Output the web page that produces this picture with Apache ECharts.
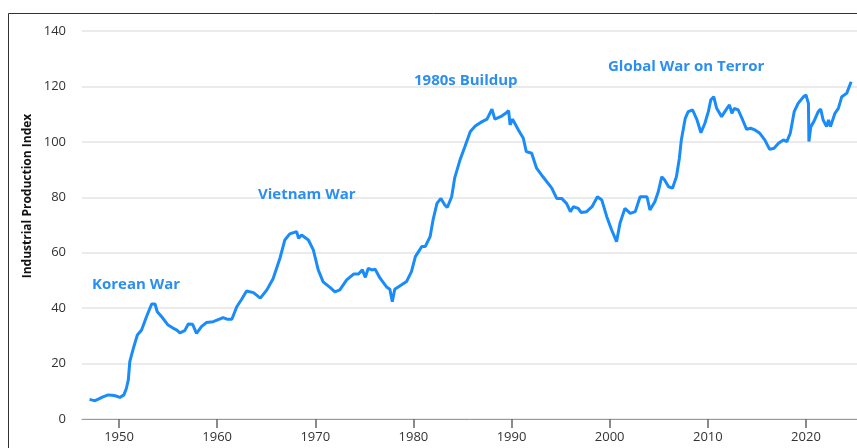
<!DOCTYPE html>
<html>
<head>
<meta charset="utf-8">
<script src="https://cdn.jsdelivr.net/npm/echarts@6/dist/echarts.min.js"></script>
<style>
html,body{margin:0;padding:0;background:#fff;}
#c{width:857px;height:448px;}
</style>
</head>
<body>
<div id="c"></div>
<script>
var years = [1947.0,1947.3,1947.55,1947.9,1948.3,1948.9,1949.3,1949.6,1950.1,1950.5,1950.75,1950.95,1951.1,1951.46,1951.87,1952.3,1952.8,1953.1,1953.33,1953.67,1953.9,1954.35,1955.0,1955.5,1955.9,1956.2,1956.7,1957.06,1957.5,1957.9,1958.4,1958.9,1959.6,1960.3,1960.6,1961.0,1961.5,1962.0,1962.5,1963.0,1963.7,1964.4,1965.05,1965.7,1966.4,1966.9,1967.4,1968.1,1968.3,1968.6,1969.3,1969.8,1970.3,1970.8,1971.5,1972.0,1972.5,1973.2,1973.9,1974.4,1974.8,1975.1,1975.4,1975.75,1976.1,1976.6,1977.3,1977.6,1977.85,1978.1,1978.8,1979.3,1979.8,1980.2,1980.85,1981.2,1981.7,1982.0,1982.4,1982.8,1983.2,1983.45,1983.9,1984.2,1984.75,1985.25,1985.8,1986.3,1987.0,1987.5,1988.0,1988.3,1989.0,1989.4,1989.7,1989.85,1990.1,1990.7,1991.2,1991.5,1992.05,1992.55,1993.2,1994.1,1994.6,1995.1,1995.6,1996.0,1996.3,1996.8,1997.1,1997.65,1998.2,1998.75,1999.2,1999.7,2000.2,2000.7,2001.05,2001.55,2002.1,2002.6,2003.1,2003.8,2004.1,2004.6,2004.95,2005.3,2005.6,2006.0,2006.4,2006.8,2007.1,2007.3,2007.7,2008.0,2008.45,2008.9,2009.3,2009.7,2010.05,2010.3,2010.6,2010.9,2011.4,2011.95,2012.2,2012.45,2012.7,2013.1,2013.55,2013.95,2014.35,2014.8,2015.3,2015.8,2016.3,2016.75,2017.2,2017.7,2018.05,2018.4,2018.8,2019.2,2019.75,2020.0,2020.25,2020.3,2020.5,2020.8,2021.25,2021.5,2021.75,2022.1,2022.3,2022.5,2022.95,2023.3,2023.65,2024.15,2024.6];
var values = [7.1,6.8,6.6,7.2,7.9,8.7,8.6,8.4,7.8,8.7,11,14.1,20.7,25.5,30.3,32.1,36.9,39.5,41.5,41.5,38.7,36.9,33.9,32.8,32.1,31.1,31.9,34.3,34.2,30.9,33.3,34.8,35.1,36.1,36.6,36.0,36.0,40.5,43.2,46.2,45.6,43.6,46.5,50.6,58.0,64.6,66.8,67.6,65.2,66.4,64.6,61.0,53.8,49.5,47.5,45.9,46.6,50.2,52.3,52.3,53.8,51.1,54.4,53.8,54.0,50.8,47.5,46.8,42.3,46.8,48.4,49.6,53.2,58.6,62.2,62.2,65.8,71.8,77.8,79.6,77.2,76.3,80.2,86.9,93.5,98.3,103.7,105.7,107.3,108.2,111.8,108.2,109.3,110.3,111.3,106.1,108.2,104.3,101.3,96.5,95.9,90.5,87.4,83.3,79.6,79.6,77.8,74.8,76.6,76.0,74.5,74.8,76.6,80.2,79.0,73.0,68.2,64.0,70.6,76.0,74.2,74.8,80.2,80.2,75.4,78.4,82.0,87.4,86.2,83.8,83.3,87.4,94.1,100.7,108.5,110.9,111.5,107.9,103.3,106.7,110.9,115.1,116.3,112.1,109.1,112.1,113.3,110.3,112.1,111.5,107.9,104.5,104.9,104.3,103.1,100.7,97.3,97.7,99.5,100.7,100.1,103.1,110.9,113.9,116.3,116.9,113.9,100.1,105.5,107.3,110.9,111.8,107.9,105.5,107.9,105.5,110.3,112.1,116.3,117.5,121.7];
var xTicks = [1950,1960,1970,1980,1990,2000,2010,2020];
var yTicks = [0,20,40,60,80,100,120,140];
var annotations = ['Korean War','Vietnam War','1980s Buildup','Global War on Terror'];
var yTitle = 'Industrial Production Index';

var seriesData = years.map(function(y,i){return [y, values[i]];});
var FONT = '"Open Sans", sans-serif';
var annoPos = [[92,285],[258,195],[414,81],[608,67]];

var chart = echarts.init(document.getElementById('c'));
chart.setOption({
  animation:false,
  backgroundColor:'#ffffff',
  grid:{left:82,right:0,top:31,bottom:29,containLabel:false},
  xAxis:{
    type:'value', min:1946.23, max:2025.2,
    axisLine:{show:true,lineStyle:{color:'#9a9a9a',width:1}},
    axisTick:{show:true,customValues:xTicks,length:9,lineStyle:{color:'#666',width:1.5}},
    axisLabel:{customValues:xTicks,margin:12,color:'#333',fontSize:13,fontFamily:FONT,
      formatter:function(v){return String(Math.round(v));}},
    splitLine:{show:false}
  },
  yAxis:{
    type:'value', min:yTicks[0], max:yTicks[yTicks.length-1], interval:20,
    axisLine:{show:false}, axisTick:{show:false},
    axisLabel:{margin:16,color:'#333',fontSize:13,fontFamily:FONT},
    splitLine:{show:true,lineStyle:{color:'#ebebeb',width:2}}
  },
  series:[{
    type:'line', data:seriesData, showSymbol:false, symbol:'none',
    lineStyle:{color:'#1a8cfa',width:3}, z:5
  }],
  graphic:{elements:[
    {type:'rect',z:100,shape:{x:8.5,y:13.5,width:1200,height:1200},style:{fill:'none',stroke:'#333',lineWidth:1},silent:true},
    {type:'text',z:100,x:28,y:196,rotation:Math.PI/2,style:{text:yTitle,font:'bold 12px '+FONT,fill:'#111',align:'center',verticalAlign:'middle'}}
  ].concat(annotations.map(function(t,i){
    return {type:'text',z:100,x:annoPos[i][0],y:annoPos[i][1],style:{text:t,font:'bold 15px '+FONT,fill:'#2b8ff2',align:'left',verticalAlign:'middle'}};
  }))}
});
</script>
</body>
</html>
